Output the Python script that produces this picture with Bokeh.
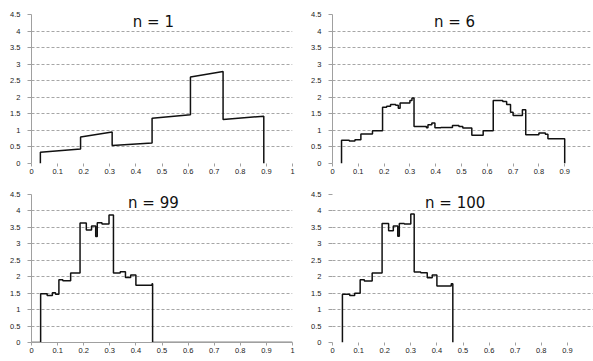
from bokeh.plotting import figure
from bokeh.models import Label, FixedTicker, CustomJSTickFormatter, Range1d
from bokeh.layouts import column, row
from bokeh.embed import file_html
from bokeh.resources import INLINE

# ---- tick labels ----
X_TICKS = [0, 0.1, 0.2, 0.3, 0.4, 0.5, 0.6, 0.7, 0.8, 0.9, 1.0]
Y_TICKS = [0, 0.5, 1, 1.5, 2, 2.5, 3, 3.5, 4, 4.5]

TITLES = ["n = 1", "n = 6", "n = 99", "n = 100"]

# ---- n = 1 : segments with slight slopes (x, y breakpoints) ----
N1_X = [0.034, 0.034, 0.188, 0.188, 0.309, 0.309, 0.462, 0.462, 0.609, 0.609, 0.734, 0.734, 0.890, 0.890]
N1_Y = [0.00, 0.34, 0.44, 0.80, 0.95, 0.54, 0.62, 1.37, 1.47, 2.61, 2.78, 1.33, 1.43, 0.00]

# ---- n = 6 : step edges and levels ----
N6_EDGES = [0.035, 0.065, 0.087, 0.110, 0.155, 0.194, 0.210, 0.225, 0.245, 0.255, 0.262,
            0.300, 0.308, 0.316, 0.364, 0.370, 0.385, 0.397, 0.420, 0.465, 0.490, 0.505,
            0.540, 0.584, 0.623, 0.660, 0.675, 0.690, 0.700, 0.736, 0.749, 0.800, 0.825,
            0.835, 0.900]
N6_LEVELS = [0.70, 0.68, 0.72, 0.89, 0.99, 1.70, 1.73, 1.78, 1.76, 1.67,
             1.83, 1.90, 1.98, 1.12, 1.08, 1.17, 1.22, 1.08, 1.09, 1.15, 1.12,
             1.07, 0.85, 0.99, 1.90, 1.87, 1.78, 1.55, 1.45, 1.62, 0.87, 0.92,
             0.88, 0.75]

# ---- n = 99 ----
N99_EDGES = [0.0, 0.035, 0.060, 0.080, 0.092, 0.105, 0.120, 0.150, 0.186, 0.210, 0.230,
             0.246, 0.252, 0.270, 0.297, 0.314, 0.340, 0.360, 0.380, 0.400, 0.462,
             0.464, 1.0]
N99_LEVELS = [0.00, 1.48, 1.43, 1.51, 1.47, 1.91, 1.88, 2.11, 3.63, 3.42, 3.54,
              3.22, 3.64, 3.60, 3.88, 2.11, 2.15, 1.98, 2.05, 1.74, 1.79, 0.00]

# ---- n = 100 ----
N100_EDGES = [0.038, 0.066, 0.085, 0.106, 0.122, 0.152, 0.190, 0.215, 0.233, 0.250,
              0.256, 0.275, 0.300, 0.313, 0.338, 0.363, 0.382, 0.400, 0.455, 0.461]
N100_LEVELS = [1.47, 1.43, 1.50, 1.91, 1.87, 2.11, 3.62, 3.40, 3.54, 3.23,
               3.62, 3.60, 3.91, 2.14, 2.12, 1.97, 2.05, 1.72, 1.79]


def step_path(edges, levels):
    xs = [edges[0]]
    ys = [0.0]
    for i, lv in enumerate(levels):
        xs += [edges[i], edges[i + 1]]
        ys += [lv, lv]
    xs.append(edges[-1])
    ys.append(0.0)
    return xs, ys


GRID_COL = "#a6a6a6"
AXIS_COL = "#a0a0a0"
TXT_COL = "#1a1a1a"


def make_panel(title, xs, ys, width, height, borders, x_ticks, title_xy,
               show_yline=True, show_xline=False, wide_drop=False):
    left, right, top, bottom = borders
    p = figure(width=width, height=height, output_backend="svg", toolbar_location=None,
               x_range=Range1d(0, 1), y_range=Range1d(0, 4.5),
               min_border_left=left, min_border_right=right,
               min_border_top=top, min_border_bottom=bottom)
    p.outline_line_color = None
    p.background_fill_color = "white"
    p.border_fill_color = "white"

    fmt = CustomJSTickFormatter(code="return String(Math.round(tick*10)/10);")

    p.xaxis.ticker = FixedTicker(ticks=x_ticks)
    p.xaxis.formatter = fmt
    p.xaxis.axis_line_color = AXIS_COL if show_xline else None
    p.xaxis.major_tick_line_color = AXIS_COL
    p.xaxis.major_tick_out = 3
    p.xaxis.major_tick_in = 0
    p.xaxis.minor_tick_line_color = None
    p.xaxis.major_label_standoff = 2
    p.xaxis.major_label_text_font = "Liberation Sans"
    p.xaxis.major_label_text_font_size = "7.5px"
    p.xaxis.major_label_text_color = TXT_COL

    p.yaxis.ticker = FixedTicker(ticks=Y_TICKS)
    p.yaxis.formatter = fmt
    p.yaxis.axis_line_color = AXIS_COL if show_yline else None
    p.yaxis.major_tick_line_color = AXIS_COL
    p.yaxis.major_tick_out = 4
    p.yaxis.major_tick_in = 0
    p.yaxis.minor_tick_line_color = None
    p.yaxis.major_label_standoff = 7
    p.yaxis.major_label_text_font = "Liberation Sans"
    p.yaxis.major_label_text_font_size = "7.5px"
    p.yaxis.major_label_text_color = TXT_COL

    p.xgrid.grid_line_color = None
    p.ygrid.ticker = FixedTicker(ticks=Y_TICKS[1:])
    p.ygrid.grid_line_color = GRID_COL
    p.ygrid.grid_line_dash = "3 2"
    p.ygrid.grid_line_width = 1

    p.line(xs, ys, line_color="#111111", line_width=1.5)

    p.add_layout(Label(x=title_xy[0], y=title_xy[1], text=title,
                       text_align="center", text_baseline="middle",
                       text_font="DejaVu Sans", text_font_size="15px",
                       text_color="#111111"))
    return p


x6, y6 = step_path(N6_EDGES, N6_LEVELS)
x99, y99 = step_path(N99_EDGES, N99_LEVELS)
x100, y100 = step_path(N100_EDGES, N100_LEVELS)

p1 = make_panel(TITLES[0], N1_X, N1_Y, 296, 178, (31, 4, 14, 15), X_TICKS, (0.467, 4.26))
p2 = make_panel(TITLES[1], x6, y6, 297, 178, (36, 3, 14, 15), X_TICKS[:-1], (0.473, 4.26))
p3 = make_panel(TITLES[2], x99, y99, 296, 183, (31, 4, 16, 18), X_TICKS, (0.467, 4.23),
                show_xline=True)
p4 = make_panel(TITLES[3], x100, y100, 297, 183, (36, 0, 15, 19), X_TICKS[:-1], (0.47, 4.23),
                show_yline=False)

layout = column(row(p1, p2), row(p3, p4))

open("out.html", "w").write(file_html(layout, INLINE))
